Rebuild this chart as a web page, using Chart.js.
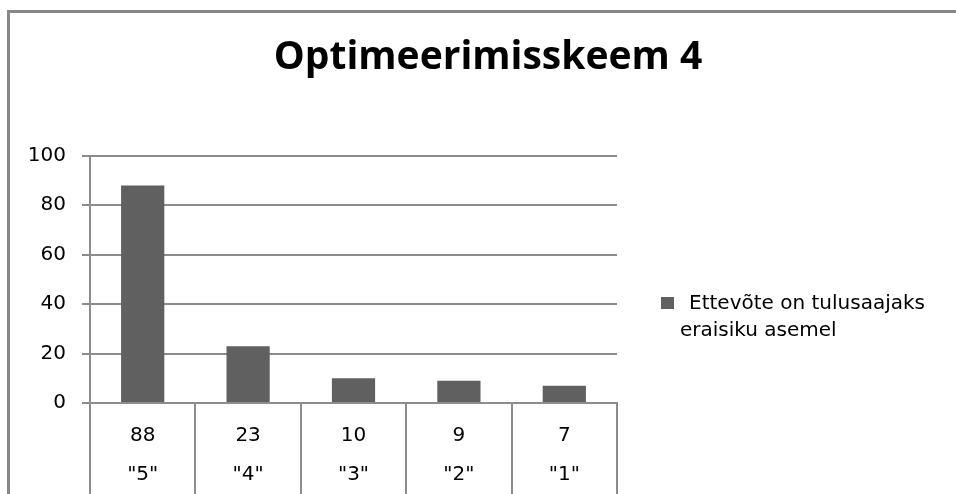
<!DOCTYPE html>
<html>
<head>
<meta charset="utf-8">
<script src="https://cdn.jsdelivr.net/npm/chart.js@4.4.1/dist/chart.umd.min.js"></script>
<style>
  html, body { margin: 0; padding: 0; background: #fff; overflow: hidden; }
  #wrap { position: relative; width: 956px; height: 494px; }
  #frame { position: absolute; left: 7px; top: 10px; right: -6px; bottom: -6px;
           border-top: 3px solid #888; border-left: 3px solid #888; }
  canvas { position: absolute; left: 0; top: 0; }
</style>
</head>
<body>
<div id="wrap">
  <div id="frame"></div>
  <canvas id="c" width="956" height="494"></canvas>
</div>
<script>
// Chart data
const titleText = 'Optimeerimisskeem 4';
const categories = ['"5"', '"4"', '"3"', '"2"', '"1"'];
const values = [88, 23, 10, 9, 7];
const legendLines = ['Ettevõte on tulusaajaks', 'eraisiku asemel'];
const seriesName = legendLines.join(' ');
const yTickMin = 0;
const yTickMax = 100;
const yTickStep = 20;

const TEXT_FONT = '"DejaVu Sans", "Open Sans", sans-serif';
const TITLE_FONT = '"Open Sans", "DejaVu Sans", sans-serif';
const BAR_COLOR = '#606060';
const LINE_COLOR = '#8c8c8c';

// Each category label carries its value on the first line (data-table style)
const xLabels = categories.map((c, i) => [String(values[i]), c]);

// Legend block drawn to the right of the plot area
const sideLegend = {
  id: 'sideLegend',
  afterDraw(chart) {
    const ctx = chart.ctx;
    const a = chart.chartArea;
    const ds = chart.data.datasets[0];
    ctx.save();
    ctx.fillStyle = ds.backgroundColor;
    ctx.fillRect(a.right + 44, 297, 13, 12);
    ctx.fillStyle = '#000';
    ctx.font = '20px ' + TEXT_FONT;
    ctx.textBaseline = 'alphabetic';
    ctx.textAlign = 'left';
    ctx.fillText(legendLines[0], a.right + 72, 309);
    ctx.fillText(legendLines[1], a.right + 63, 336);
    ctx.restore();
  }
};

Chart.defaults.font.family = TEXT_FONT;

new Chart(document.getElementById('c'), {
  type: 'bar',
  data: {
    labels: xLabels,
    datasets: [{
      label: seriesName,
      data: values,
      backgroundColor: BAR_COLOR,
      borderWidth: 0,
      barPercentage: 0.41,
      categoryPercentage: 1
    }]
  },
  options: {
    responsive: false,
    animation: false,
    events: [],
    layout: { padding: { left: 20, right: 0, top: 0, bottom: 0 } },
    plugins: {
      legend: { display: false },
      tooltip: { enabled: false },
      title: {
        display: true,
        text: titleText,
        color: '#000',
        font: { size: 39, weight: 'bold', family: TITLE_FONT, lineHeight: 1.2 },
        padding: { top: 34, bottom: 75 }
      }
    },
    scales: {
      x: {
        grid: { offset: true, drawOnChartArea: false, tickLength: 95, color: LINE_COLOR, lineWidth: 2 },
        border: { display: true, color: LINE_COLOR, width: 2 },
        ticks: { padding: -82, color: '#000', maxRotation: 0, autoSkip: false,
                 font: { size: 20, lineHeight: 1.95 } },
        afterFit(s) { s.height = 91; }
      },
      y: {
        min: yTickMin,
        max: yTickMax,
        ticks: { stepSize: yTickStep, padding: 16, color: '#000', font: { size: 20 } },
        grid: { color: LINE_COLOR, lineWidth: 2, tickLength: 8 },
        border: { display: true, color: LINE_COLOR, width: 2 },
        afterFit(s) { s.width = 70; }
      },
      // reserves the space on the right where the legend sits
      side: {
        position: 'right',
        display: true,
        grid: { display: false, drawOnChartArea: false },
        border: { display: false },
        ticks: { display: false },
        afterFit(s) { s.width = 339; }
      }
    }
  },
  plugins: [sideLegend]
});
</script>
</body>
</html>
